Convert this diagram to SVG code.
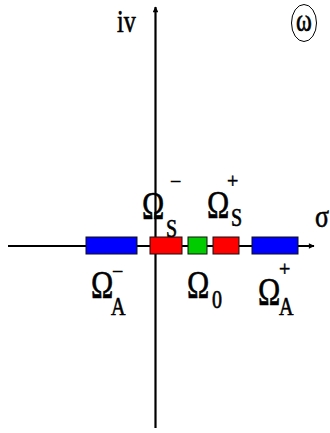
<svg xmlns="http://www.w3.org/2000/svg" width="330" height="433" viewBox="0 0 330 433">
<style>
.t{font-family:"Liberation Serif","Times New Roman",serif;fill:#000;stroke:#000;stroke-width:0.5}
.big{font-size:30px}
.sub{font-size:20px}
.axis{stroke:#000;stroke-width:2.2;fill:none}
.box{stroke:#111;stroke-width:1}
</style>
<defs>
<marker id="ah" viewBox="0 0 10 10" refX="9" refY="5" markerWidth="3" markerHeight="2.6" orient="auto" markerUnits="strokeWidth">
<path d="M0,0 L10,5 L0,10 z" fill="#000"/>
</marker>
</defs>
<rect width="330" height="433" fill="#fff"/>
<g id="connectors">
<line class="axis" x1="8" y1="246" x2="314" y2="246" marker-end="url(#ah)"/>
<line class="axis" x1="155.5" y1="428" x2="155.5" y2="7" marker-end="url(#ah)"/>
</g>
<g id="boxA-minus"><rect class="box" x="86" y="237" width="51" height="17" fill="#0000ff"/></g>
<g id="boxS-minus"><rect class="box" x="150" y="237" width="32" height="17" fill="#ff0000"/></g>
<g id="box0"><rect class="box" x="188" y="237" width="19" height="17" fill="#00cc00"/></g>
<g id="boxS-plus"><rect class="box" x="213" y="237" width="26" height="17" fill="#ff0000"/></g>
<g id="boxA-plus"><rect class="box" x="252" y="237" width="46" height="17" fill="#0000ff"/></g>
<g id="labels">
<text class="t" font-size="24" transform="translate(117,32) scale(1,1.35)">iv</text>
<ellipse cx="304" cy="23" rx="12.5" ry="18.5" fill="none" stroke="#000" stroke-width="1"/>
<text class="t" font-size="24" text-anchor="middle" transform="translate(304,31) scale(1,1.35)">ω</text>
<text class="t" font-size="26" transform="translate(315,227) scale(1,1.2)">σ</text>
<text class="t big" transform="translate(142,219) scale(1,1.3)">Ω</text>
<text class="t sub" transform="translate(166,237) scale(1,1.25)">S</text>
<text class="t" font-size="20" transform="translate(170,188)">−</text>
<text class="t big" transform="translate(207,218) scale(1,1.3)">Ω</text>
<text class="t sub" transform="translate(231,226) scale(1,1.25)">S</text>
<text class="t" font-size="20" transform="translate(227,188)">+</text>
<text class="t big" transform="translate(91,298) scale(1,1.3)">Ω</text>
<text class="t sub" transform="translate(111,315) scale(1,1.25)">A</text>
<text class="t" font-size="20" transform="translate(112,278)">−</text>
<text class="t big" transform="translate(187,298) scale(1,1.3)">Ω</text>
<text class="t sub" transform="translate(212,308) scale(1,1.25)">0</text>
<text class="t big" transform="translate(258,305) scale(1,1.3)">Ω</text>
<text class="t sub" transform="translate(279,315) scale(1,1.25)">A</text>
<text class="t" font-size="20" transform="translate(279,276)">+</text>
</g>
</svg>
